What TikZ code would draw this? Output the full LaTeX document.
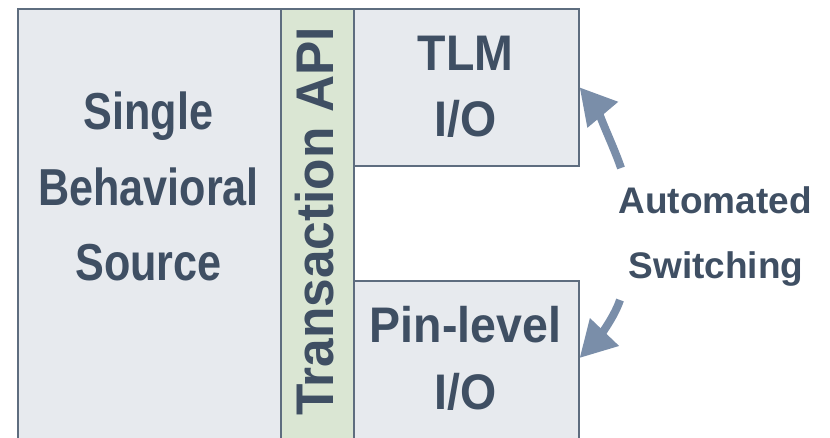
\documentclass[tikz,border=0pt]{standalone}
\usepackage{fontspec}
\setmainfont{Liberation Sans}
\newfontfamily\srcfont[FakeStretch=0.83]{Liberation Sans}
\newfontfamily\iofont[FakeStretch=0.93]{Liberation Sans}
\newfontfamily\apifont[FakeStretch=0.97]{Liberation Sans}
\usetikzlibrary{arrows.meta,calc}

\definecolor{boxfill}{HTML}{E7EAEE}
\definecolor{apifill}{HTML}{DAE6D3}
\definecolor{edge}{HTML}{5E6D7F}
\definecolor{ink}{HTML}{3F4F63}
\definecolor{arrowc}{HTML}{7A8EA9}

\begin{document}
\begin{tikzpicture}[x=1pt,y=-1pt,
  panel/.style={draw=edge, line width=1.6pt, fill=boxfill, inner sep=0pt,
    anchor=north west},
  srctext/.style={text=ink, inner sep=0pt, anchor=base,
    font=\srcfont\bfseries\fontsize{52}{60}\selectfont},
  iotext/.style={text=ink, inner sep=0pt, anchor=base,
    font=\iofont\bfseries\fontsize{50}{58}\selectfont},
  apitext/.style={text=ink, inner sep=0pt, anchor=base, rotate=90,
    font=\apifont\bfseries\fontsize{53}{60}\selectfont},
  notetext/.style={text=ink, inner sep=0pt, anchor=base,
    font=\bfseries\fontsize{37}{44}\selectfont},
  flow/.style={draw=arrowc, line width=8pt,
    -{Triangle[length=36pt,width=38pt]}}]
\useasboundingbox (0,0) rectangle (830,437);
\clip (0,0) rectangle (830,437);

% blocks
\node[panel, minimum width=263pt, minimum height=440pt] (src) at (17,8) {};
\node[panel, fill=apifill, minimum width=73pt, minimum height=440pt] (api) at (280,8) {};
\node[panel, minimum width=225pt, minimum height=157pt] (tlm) at (353,8) {};
\node[panel, minimum width=225pt, minimum height=170pt] (pin) at (353,280) {};

% block labels
\node[srctext] (src1) at (148.5,129) {Single};
\node[srctext] (src2) at (148.5,205) {Behavioral};
\node[srctext] (src3) at (148.5,280) {Source};

\node[apitext] (apil) at (333,221.5) {Transaction API};

\node[iotext] (tlm1) at (465.5,70) {TLM};
\node[iotext] (tlm2) at (465.5,136) {I/O};
\node[iotext] (pin1) at (465.5,342) {Pin-level};
\node[iotext] (pin2) at (465.5,409) {I/O};

\node[notetext] (sw1) at (715,213) {Automated};
\node[notetext] (sw2) at (716,278) {Switching};

% switching arrows
\coordinate (up) at (621,168);
\coordinate (down) at (620,300);
\coordinate (pinport) at ($(pin.north east)+(0,78)$);
\draw[flow] (up) .. controls (613,144) and (592,102) .. (tlm.east);
\draw[flow] (down) .. controls (613,321) and (593,344) .. (pinport);
\end{tikzpicture}
\end{document}
